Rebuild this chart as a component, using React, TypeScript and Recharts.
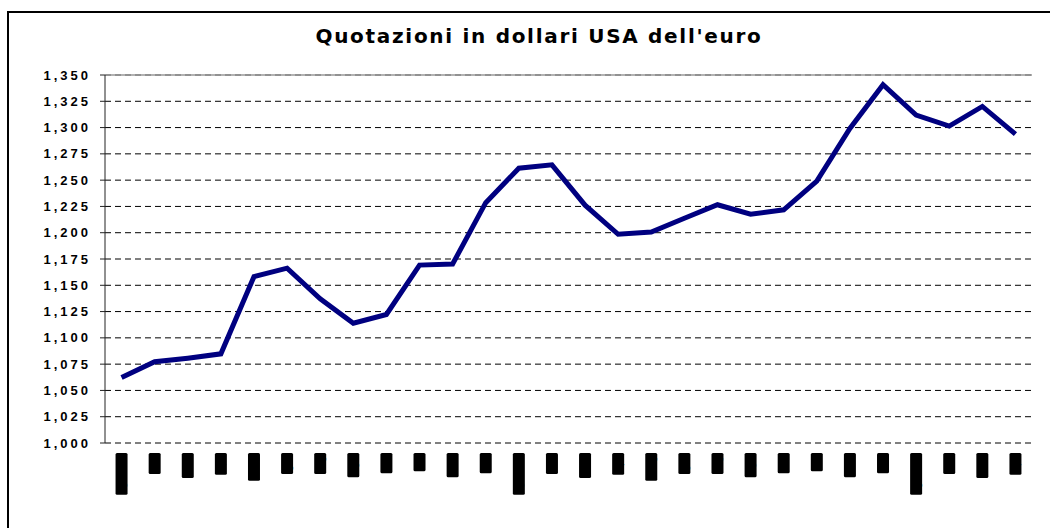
import { useLayoutEffect, useRef, useState } from "react";
import { CartesianGrid, Line, LineChart, ReferenceLine, XAxis, YAxis } from "recharts";

const months = [
  "gen-03", "feb", "mar", "apr", "mag", "giu", "lug", "ago", "set", "ott", "nov", "dic",
  "gen-04", "feb", "mar", "apr", "mag", "giu", "lug", "ago", "set", "ott", "nov", "dic",
  "gen-05", "feb", "mar", "apr",
];

const usdPerEuro = [
  1.0622, 1.0773, 1.0807, 1.0848, 1.1582, 1.1663, 1.1372, 1.1139, 1.1222, 1.1692, 1.1702, 1.2286,
  1.2613, 1.2646, 1.2262, 1.1985, 1.2007, 1.2138, 1.2266, 1.2176, 1.2218, 1.249, 1.2991, 1.3408,
  1.3119, 1.3014, 1.3201, 1.2938,
];

const yTicks = [1.0, 1.025, 1.05, 1.075, 1.1, 1.125, 1.15, 1.175, 1.2, 1.225, 1.25, 1.275, 1.3, 1.325, 1.35];

const boundaryTicks = Array.from({ length: months.length + 1 }, (_, i) => i);
const centerTicks = months.map((_, i) => i + 0.5);

const data = months.map((m, i) => ({ pos: i + 0.5, month: m, value: usdPerEuro[i] }));

const fmt = (v: number) => v.toFixed(3).replace(".", ",");

// month labels come out as solid black blocks in the original, so the
// rotated text sits on a black box sized from the measured text length
function MonthTick(props: any) {
  const { x, y, payload } = props;
  const label = months[Math.floor(payload.value)] ?? "";
  const textRef = useRef<SVGTextElement>(null);
  const [len, setLen] = useState(label.length * 7);

  useLayoutEffect(() => {
    if (textRef.current) {
      const w = textRef.current.getComputedTextLength();
      if (w > 0) setLen(w * 1.2 + 3);
    }
  }, [label]);

  const top = y + 2;
  return (
    <g transform={`translate(${x}, ${top})`}>
      <rect x={-6} y={0} width={12} height={len} rx={1.5} fill="#000" />
      <text
        ref={textRef}
        transform={`translate(0, 3) rotate(-90)`}
        textAnchor="end"
        dominantBaseline="central"
        fontFamily="Liberation Sans, Arial, sans-serif"
        fontWeight="bold"
        fontSize={10}
        fill="#000"
      >
        {label}
      </text>
    </g>
  );
}

export default function App() {
  return (
    <div style={{ position: "absolute", left: 0, top: 0, width: 1050, height: 528, overflow: "hidden", background: "#fff" }}>
      <div
        style={{
          position: "absolute",
          left: 7,
          top: 11,
          width: 1100,
          height: 600,
          borderTop: "2px solid #000",
          borderLeft: "2px solid #000",
        }}
      />
      <div
        style={{
          position: "absolute",
          left: 0,
          top: 24,
          width: 1078,
          textAlign: "center",
          fontFamily: "DejaVu Sans, Verdana, sans-serif",
          fontWeight: "bold",
          fontSize: 20,
          letterSpacing: 1.7,
          color: "#000",
        }}
      >
        Quotazioni in dollari USA dell'euro
      </div>
      <div style={{ position: "absolute", left: 0, top: 0 }}>
        <LineChart width={1050} height={528} data={data} margin={{ top: 75, right: 18, bottom: 35, left: 0 }}>
          <CartesianGrid vertical={false} stroke="#000" strokeDasharray="6 4" yAxisId="y" xAxisId="m" />
          <XAxis
            xAxisId="b"
            type="number"
            dataKey="pos"
            domain={[0, months.length]}
            ticks={boundaryTicks}
            interval={0}
            height={0}
            tick={false}
            tickSize={5}
            stroke="#666"
            allowDataOverflow
          />
          <XAxis
            xAxisId="m"
            type="number"
            dataKey="pos"
            domain={[0, months.length]}
            ticks={centerTicks}
            interval={0}
            height={50}
            axisLine={false}
            tickLine={false}
            tick={<MonthTick />}
            allowDataOverflow
          />
          <YAxis
            yAxisId="y"
            domain={[1.0, 1.35]}
            ticks={yTicks}
            interval={0}
            width={105}
            tickSize={5}
            tickMargin={9}
            tickFormatter={fmt}
            stroke="#222"
            tick={{ fill: "#000", fontSize: 13, fontWeight: "bold", fontFamily: "Liberation Sans, Arial, sans-serif", letterSpacing: 3 }}
          />
          <YAxis yAxisId="r" orientation="right" width={0} tick={false} tickLine={false} stroke="#999" />
          <ReferenceLine yAxisId="y" xAxisId="m" y={1.35} stroke="#999" strokeWidth={1.5} />
          <Line
            xAxisId="m"
            yAxisId="y"
            type="linear"
            dataKey="value"
            stroke="#000080"
            strokeWidth={5}
            dot={false}
            isAnimationActive={false}
          />
        </LineChart>
      </div>
    </div>
  );
}
